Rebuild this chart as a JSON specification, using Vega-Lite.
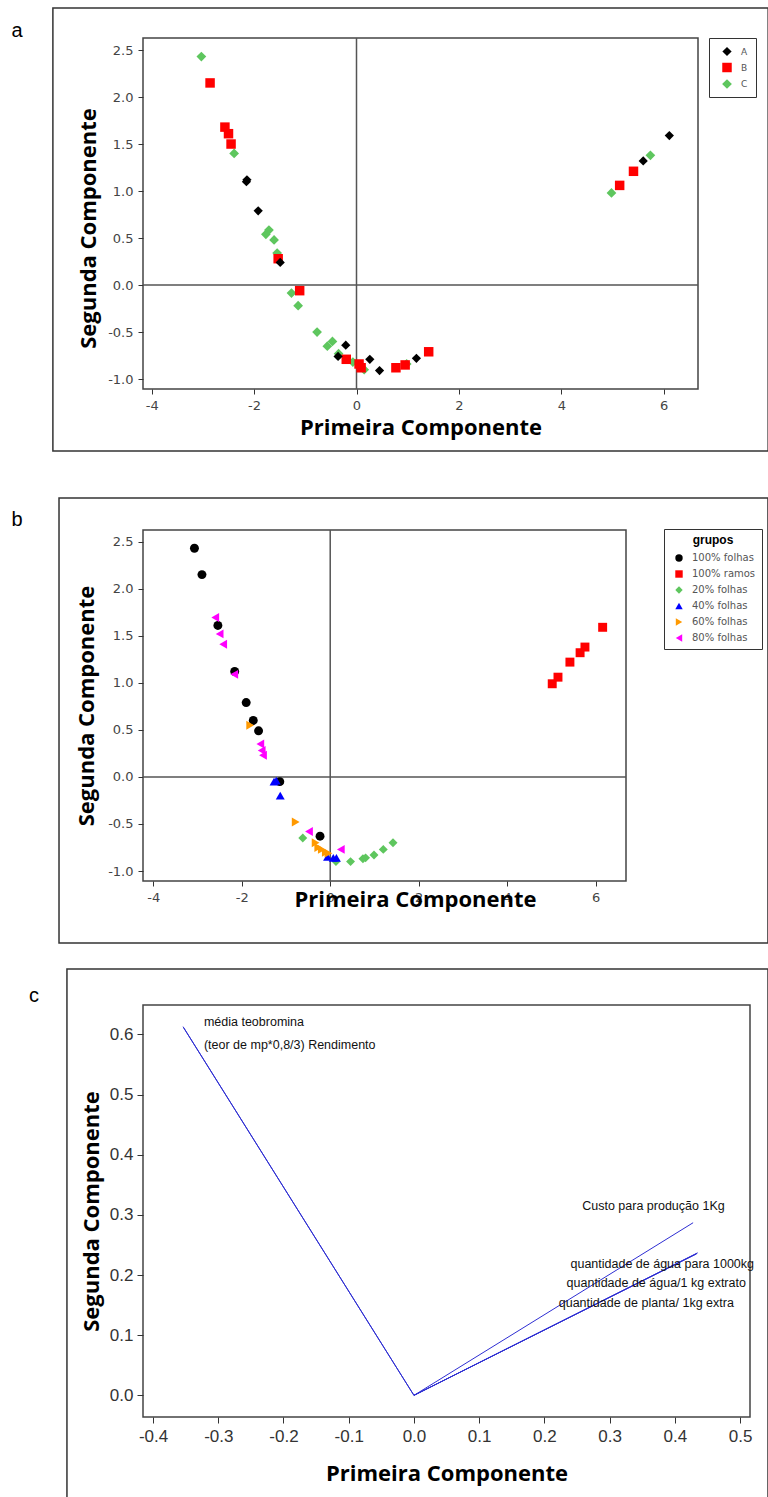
{
  "$schema": "https://vega.github.io/schema/vega-lite/v6.json",
  "padding": {"left": 10, "top": 6, "right": 0, "bottom": 0},
  "config": {
    "view": {"stroke": "#444", "strokeWidth": 1.5},
    "locale": {"number": {"decimal": ".", "thousands": ",", "grouping": [3], "currency": ["$", ""], "minus": "-"}},
    "axis": {"grid": false, "domain": false, "tickColor": "#333", "labelColor": "#444", "titleColor": "#000", "titleFont": "Open Sans", "titleFontWeight": "bold", "titleFontSize": 22, "labelFont": "DejaVu Sans", "labelFontSize": 13, "tickSize": 5, "labelPadding": 5}
  },
  "resolve": {"scale": {"color": "independent", "shape": "independent", "size": "independent"}, "legend": {"color": "independent", "shape": "independent"}},
  "spacing": 43,
  "vconcat": [
    {
      "width": 555,
      "height": 351,
      "data": {"values": [
        {"g": "C", "x": -3.03, "y": 2.43}, {"g": "C", "x": -2.39, "y": 1.40}, {"g": "C", "x": -1.77, "y": 0.54}, {"g": "C", "x": -1.71, "y": 0.585},
        {"g": "C", "x": -1.61, "y": 0.48}, {"g": "C", "x": -1.55, "y": 0.34}, {"g": "C", "x": -1.27, "y": -0.085}, {"g": "C", "x": -1.14, "y": -0.22},
        {"g": "C", "x": -0.77, "y": -0.50}, {"g": "C", "x": -0.57, "y": -0.65}, {"g": "C", "x": -0.47, "y": -0.60}, {"g": "C", "x": -0.35, "y": -0.73},
        {"g": "C", "x": -0.07, "y": -0.82}, {"g": "C", "x": 0.15, "y": -0.90}, {"g": "C", "x": 0.98, "y": -0.84}, {"g": "C", "x": 4.98, "y": 0.98},
        {"g": "C", "x": 5.74, "y": 1.38},
        {"g": "B", "x": -2.86, "y": 2.15}, {"g": "B", "x": -2.57, "y": 1.68}, {"g": "B", "x": -2.50, "y": 1.61}, {"g": "B", "x": -2.45, "y": 1.50},
        {"g": "B", "x": -1.53, "y": 0.28}, {"g": "B", "x": -1.11, "y": -0.06}, {"g": "B", "x": -0.20, "y": -0.79}, {"g": "B", "x": 0.05, "y": -0.84},
        {"g": "B", "x": 0.09, "y": -0.88}, {"g": "B", "x": 0.77, "y": -0.88}, {"g": "B", "x": 0.95, "y": -0.85}, {"g": "B", "x": 1.41, "y": -0.71},
        {"g": "B", "x": 5.14, "y": 1.06}, {"g": "B", "x": 5.41, "y": 1.21},
        {"g": "A", "x": -2.15, "y": 1.10}, {"g": "A", "x": -2.14, "y": 1.12}, {"g": "A", "x": -1.92, "y": 0.79}, {"g": "A", "x": -1.49, "y": 0.24},
        {"g": "A", "x": -0.21, "y": -0.64}, {"g": "A", "x": -0.36, "y": -0.76}, {"g": "A", "x": 0.26, "y": -0.79}, {"g": "A", "x": 0.45, "y": -0.91},
        {"g": "A", "x": 1.17, "y": -0.78}, {"g": "A", "x": 5.60, "y": 1.32}, {"g": "A", "x": 6.11, "y": 1.59}
      ]},
      "layer": [
        {
          "data": {"values": [{}]},
          "mark": {"type": "rect", "filled": false, "stroke": "#333", "strokeWidth": 1.5, "clip": false},
          "encoding": {"x": {"datum": -5.93, "type": "quantitative"}, "x2": {"datum": 8.04}, "y": {"datum": 2.947, "type": "quantitative"}, "y2": {"datum": -1.766}}
        },
        {
          "data": {"values": [{}]},
          "mark": {"type": "text", "text": "a", "font": "Liberation Sans", "fontSize": 20, "color": "#000", "align": "center", "baseline": "middle", "clip": false},
          "encoding": {"x": {"datum": -6.63, "type": "quantitative"}, "y": {"datum": 2.70, "type": "quantitative"}}
        },
        {
          "data": {"values": [{}]},
          "mark": {"type": "rule", "color": "#555", "strokeWidth": 1.5},
          "encoding": {"x": {"datum": 0, "type": "quantitative"}}
        },
        {
          "data": {"values": [{}]},
          "mark": {"type": "rule", "color": "#555", "strokeWidth": 1.5},
          "encoding": {"y": {"datum": 0, "type": "quantitative"}}
        },
        {
          "mark": {"type": "point", "filled": true, "opacity": 1},
          "encoding": {
            "x": {"field": "x", "type": "quantitative", "scale": {"domain": [-4.17, 6.67], "nice": false, "zero": false}, "axis": {"values": [-4, -2, 0, 2, 4, 6], "format": "d", "title": "Primeira Componente", "titlePadding": 5}},
            "y": {"field": "y", "type": "quantitative", "scale": {"domain": [-1.106, 2.628], "nice": false, "zero": false}, "axis": {"values": [-1, -0.5, 0, 0.5, 1, 1.5, 2, 2.5], "format": ".1f", "title": "Segunda Componente", "titlePadding": 7, "titleY": 190}},
            "color": {"field": "g", "type": "nominal", "scale": {"domain": ["A", "B", "C"], "range": ["#000000", "#ff0000", "#5ec65e"]},
              "legend": {"title": null, "orient": "none", "legendX": 566, "legendY": 0, "padding": 8, "strokeColor": "#333", "symbolSize": 40, "labelFont": "DejaVu Sans", "labelFontSize": 9, "labelColor": "#555", "rowPadding": 5, "symbolOffset": 4, "labelOffset": 8}},
            "shape": {"field": "g", "type": "nominal", "scale": {"domain": ["A", "B", "C"], "range": ["diamond", "square", "diamond"]},
              "legend": {"title": null, "orient": "none", "legendX": 566, "legendY": 0, "padding": 8, "strokeColor": "#333", "symbolSize": 40, "labelFont": "DejaVu Sans", "labelFontSize": 9, "labelColor": "#555", "rowPadding": 5, "symbolOffset": 4, "labelOffset": 8}},
            "size": {"field": "g", "type": "ordinal", "scale": {"domain": ["A", "B", "C"], "range": [85, 95, 130]}, "legend": null}
          }
        }
      ]
    },
    {
      "spacing": 22,
      "resolve": {"scale": {"color": "independent", "shape": "independent"}, "legend": {"color": "independent", "shape": "independent"}},
      "vconcat": [
        {
          "width": 483,
          "height": 351,
          "data": {"values": [
            {"grupo": "100% folhas", "x": -3.07, "y": 2.43}, {"grupo": "100% folhas", "x": -2.90, "y": 2.15}, {"grupo": "100% folhas", "x": -2.54, "y": 1.61},
            {"grupo": "100% folhas", "x": -2.16, "y": 1.12}, {"grupo": "100% folhas", "x": -1.90, "y": 0.79}, {"grupo": "100% folhas", "x": -1.74, "y": 0.60},
            {"grupo": "100% folhas", "x": -1.62, "y": 0.49}, {"grupo": "100% folhas", "x": -1.14, "y": -0.05}, {"grupo": "100% folhas", "x": -0.23, "y": -0.63},
            {"grupo": "100% ramos", "x": 5.02, "y": 0.99}, {"grupo": "100% ramos", "x": 5.15, "y": 1.06}, {"grupo": "100% ramos", "x": 5.42, "y": 1.22},
            {"grupo": "100% ramos", "x": 5.65, "y": 1.32}, {"grupo": "100% ramos", "x": 5.76, "y": 1.38}, {"grupo": "100% ramos", "x": 6.16, "y": 1.59},
            {"grupo": "20% folhas", "x": -0.62, "y": -0.65}, {"grupo": "20% folhas", "x": 0.13, "y": -0.90}, {"grupo": "20% folhas", "x": 0.46, "y": -0.90},
            {"grupo": "20% folhas", "x": 0.74, "y": -0.87}, {"grupo": "20% folhas", "x": 0.80, "y": -0.86}, {"grupo": "20% folhas", "x": 0.99, "y": -0.83},
            {"grupo": "20% folhas", "x": 1.20, "y": -0.77}, {"grupo": "20% folhas", "x": 1.42, "y": -0.70},
            {"grupo": "40% folhas", "x": -1.27, "y": -0.05}, {"grupo": "40% folhas", "x": -1.22, "y": -0.04}, {"grupo": "40% folhas", "x": -1.13, "y": -0.20},
            {"grupo": "40% folhas", "x": -0.06, "y": -0.85}, {"grupo": "40% folhas", "x": 0.07, "y": -0.86}, {"grupo": "40% folhas", "x": 0.14, "y": -0.86},
            {"grupo": "60% folhas", "x": -1.81, "y": 0.55}, {"grupo": "60% folhas", "x": -0.78, "y": -0.48}, {"grupo": "60% folhas", "x": -0.33, "y": -0.70},
            {"grupo": "60% folhas", "x": -0.27, "y": -0.75}, {"grupo": "60% folhas", "x": -0.19, "y": -0.77}, {"grupo": "60% folhas", "x": -0.10, "y": -0.80},
            {"grupo": "60% folhas", "x": -0.04, "y": -0.81},
            {"grupo": "80% folhas", "x": -2.60, "y": 1.695}, {"grupo": "80% folhas", "x": -2.50, "y": 1.52}, {"grupo": "80% folhas", "x": -2.42, "y": 1.41},
            {"grupo": "80% folhas", "x": -2.17, "y": 1.09}, {"grupo": "80% folhas", "x": -1.58, "y": 0.35}, {"grupo": "80% folhas", "x": -1.55, "y": 0.28},
            {"grupo": "80% folhas", "x": -1.52, "y": 0.23}, {"grupo": "80% folhas", "x": -0.48, "y": -0.58}, {"grupo": "80% folhas", "x": 0.24, "y": -0.77}
          ]},
          "layer": [
            {
              "data": {"values": [{}]},
              "mark": {"type": "rect", "filled": false, "stroke": "#333", "strokeWidth": 1.5, "clip": false},
              "encoding": {"x": {"datum": -6.132, "type": "quantitative"}, "x2": {"datum": 9.898}, "y": {"datum": 2.964, "type": "quantitative"}, "y2": {"datum": -1.765}}
            },
            {
              "data": {"values": [{}]},
              "mark": {"type": "text", "text": "b", "font": "Liberation Sans", "fontSize": 20, "color": "#000", "align": "center", "baseline": "middle", "clip": false},
              "encoding": {"x": {"datum": -7.082, "type": "quantitative"}, "y": {"datum": 2.73, "type": "quantitative"}}
            },
            {
              "data": {"values": [{}]},
              "mark": {"type": "rule", "color": "#555", "strokeWidth": 1.5},
              "encoding": {"x": {"datum": 0, "type": "quantitative"}}
            },
            {
              "data": {"values": [{}]},
              "mark": {"type": "rule", "color": "#555", "strokeWidth": 1.5},
              "encoding": {"y": {"datum": 0, "type": "quantitative"}}
            },
            {
              "mark": {"type": "point", "filled": true, "opacity": 1, "size": 80},
              "encoding": {
                "x": {"field": "x", "type": "quantitative", "scale": {"domain": [-4.233, 6.688], "nice": false, "zero": false}, "axis": {"values": [-4, -2, 0, 2, 4, 6], "format": "d", "title": "Primeira Componente", "titleX": 272, "titleY": 8, "titleBaseline": "top"}},
                "y": {"field": "y", "type": "quantitative", "scale": {"domain": [-1.106, 2.624], "nice": false, "zero": false}, "axis": {"values": [-1, -0.5, 0, 0.5, 1, 1.5, 2, 2.5], "format": ".1f", "title": "Segunda Componente", "titlePadding": 9}},
                "color": {"field": "grupo", "type": "nominal", "title": "grupos",
                  "scale": {"domain": ["100% folhas", "100% ramos", "20% folhas", "40% folhas", "60% folhas", "80% folhas"], "range": ["#000000", "#ff0000", "#5ec65e", "#0000ff", "#ff9900", "#ff00ff"]},
                  "legend": {"orient": "none", "legendX": 521, "legendY": -1, "padding": 6, "strokeColor": "#333", "symbolSize": 55, "labelFont": "DejaVu Sans", "labelFontSize": 10, "labelColor": "#555", "rowPadding": 6, "symbolOffset": 4, "labelOffset": 8, "titleFont": "Liberation Sans", "titleFontSize": 12, "titleFontWeight": "bold", "titleColor": "#000", "titleAnchor": "middle", "titlePadding": 6}},
                "shape": {"field": "grupo", "type": "nominal", "title": "grupos",
                  "scale": {"domain": ["100% folhas", "100% ramos", "20% folhas", "40% folhas", "60% folhas", "80% folhas"], "range": ["circle", "square", "diamond", "triangle-up", "triangle-right", "triangle-left"]},
                  "legend": {"orient": "none", "legendX": 521, "legendY": -1, "padding": 6, "strokeColor": "#333", "symbolSize": 55, "labelFont": "DejaVu Sans", "labelFontSize": 10, "labelColor": "#555", "rowPadding": 6, "symbolOffset": 4, "labelOffset": 8, "titleFont": "Liberation Sans", "titleFontSize": 12, "titleFontWeight": "bold", "titleColor": "#000", "titleAnchor": "middle", "titlePadding": 6}}
              }
            }
          ]
        },
        {
          "width": 607,
          "height": 412,
          "data": {"values": [
            {"v": "média teobromina", "x": -0.354, "y": 0.613, "lx": -0.322, "ly": 0.621},
            {"v": "(teor de mp*0,8/3)  Rendimento", "x": -0.353, "y": 0.611, "lx": -0.322, "ly": 0.583},
            {"v": "Custo para produção 1Kg", "x": 0.428, "y": 0.287, "lx": 0.258, "ly": 0.315},
            {"v": "quantidade de água para 1000kg", "x": 0.435, "y": 0.237, "lx": 0.240, "ly": 0.218},
            {"v": "quantidade de água/1 kg extrato", "x": 0.434, "y": 0.236, "lx": 0.234, "ly": 0.186},
            {"v": "quantidade de planta/ 1kg extra", "x": 0.433, "y": 0.235, "lx": 0.222, "ly": 0.154}
          ]},
          "layer": [
            {
              "data": {"values": [{}]},
              "mark": {"type": "rect", "filled": false, "stroke": "#333", "strokeWidth": 1.5, "clip": false},
              "encoding": {"x": {"datum": -0.532, "type": "quantitative"}, "x2": {"datum": 0.5428}, "y": {"datum": 0.7089, "type": "quantitative"}, "y2": {"datum": -0.1707}}
            },
            {
              "data": {"values": [{}]},
              "mark": {"type": "text", "text": "c", "font": "Liberation Sans", "fontSize": 20, "color": "#000", "align": "center", "baseline": "middle", "clip": false},
              "encoding": {"x": {"datum": -0.5825, "type": "quantitative"}, "y": {"datum": 0.664, "type": "quantitative"}}
            },
            {
              "mark": {"type": "rule", "color": "#2e2ed2", "strokeWidth": 1},
              "encoding": {
                "x": {"field": "x", "type": "quantitative", "scale": {"domain": [-0.4154, 0.5152], "nice": false, "zero": false},
                  "axis": {"values": [-0.4, -0.3, -0.2, -0.1, 0, 0.1, 0.2, 0.3, 0.4, 0.5], "format": ".1f", "title": "Primeira Componente", "labelFont": "Liberation Sans", "labelFontSize": 17, "labelColor": "#333", "tickSize": 6, "labelPadding": 5, "titlePadding": 19}},
                "y": {"field": "y", "type": "quantitative", "scale": {"domain": [-0.036, 0.649], "nice": false, "zero": false},
                  "axis": {"values": [0, 0.1, 0.2, 0.3, 0.4, 0.5, 0.6], "format": ".1f", "title": "Segunda Componente", "labelFont": "Liberation Sans", "labelFontSize": 17, "labelColor": "#333", "tickSize": 6, "labelPadding": 4, "titlePadding": 6}},
                "x2": {"datum": 0},
                "y2": {"datum": 0}
              }
            },
            {
              "mark": {"type": "text", "align": "left", "baseline": "middle", "font": "Liberation Sans", "fontSize": 12.5, "color": "#111"},
              "encoding": {
                "x": {"field": "lx", "type": "quantitative"},
                "y": {"field": "ly", "type": "quantitative"},
                "text": {"field": "v"}
              }
            }
          ]
        }
      ]
    }
  ]
}
